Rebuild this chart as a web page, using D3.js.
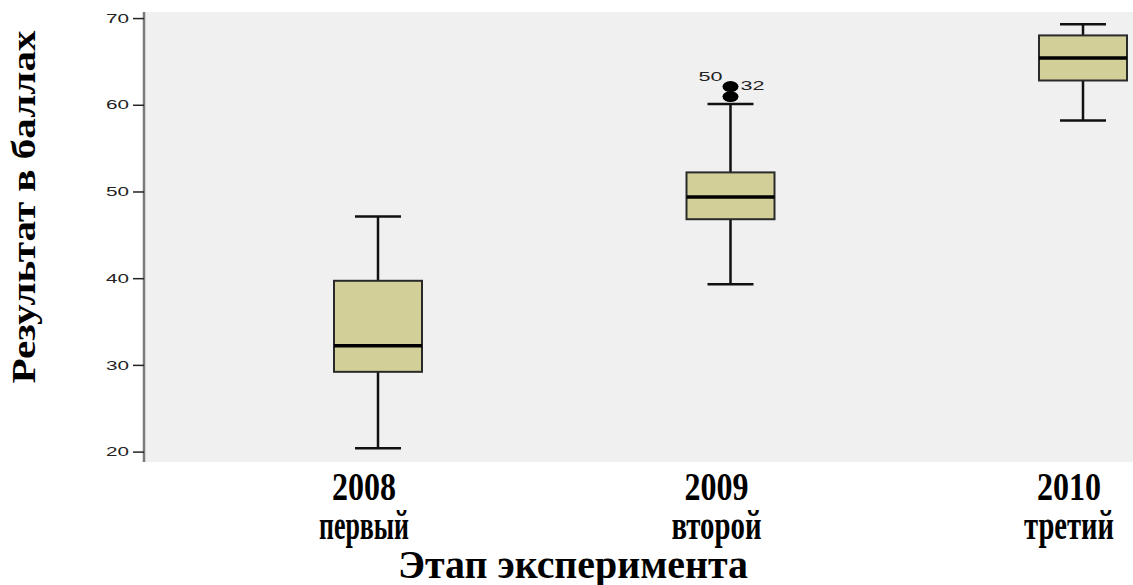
<!DOCTYPE html>
<html lang="ru">
<head>
<meta charset="UTF-8">
<title>Результат в баллах по этапам</title>
<script src="https://d3js.org/d3.v7.min.js"></script>
<style>
  body { margin: 0; background: #fff; }
  svg { display: block; }
  .tick-label { font-family: "Liberation Sans", Arial, sans-serif; font-size: 13px; fill: #222; }
  .cat-label { font-family: "Liberation Serif", "Times New Roman", serif; font-weight: bold; fill: #000; }
</style>
</head>
<body>
<div id="chart"></div>
<script>
// --- data ---
const categories = ["2008", "2009", "2010"];
const stageNames = ["первый", "второй", "третий"];
const whiskerLow = [20.4, 39.3, 58.2];
const q1 = [29.2, 46.8, 62.8];
const median = [32.2, 49.35, 65.4];
const q3 = [39.7, 52.2, 68.0];
const whiskerHigh = [47.1, 60.1, 69.3];
const outlierCats = ["2009", "2009"];
const outlierValues = [62.1, 60.95];
const outlierLabels = ["32", "50"];
const yTicks = [20, 30, 40, 50, 60, 70];

const W = 1133, H = 585;
const plot = { left: 144, top: 12, right: 1133, bottom: 462 };

const svg = d3.select("#chart").append("svg").attr("width", W).attr("height", H);

const y = d3.scaleLinear().domain([18.8, 70.7]).range([plot.bottom, plot.top]);
const x = d3.scalePoint().domain(categories).range([378, 1083]);
const boxW = 88, capW = 46;

// plot background
svg.append("rect")
  .attr("x", plot.left).attr("y", plot.top)
  .attr("width", plot.right - plot.left).attr("height", plot.bottom - plot.top)
  .attr("fill", "#f0f0f0");

// y axis
const yAxis = svg.append("g").attr("transform", `translate(${plot.left},0)`)
  .call(d3.axisLeft(y).tickValues(yTicks).tickSize(11).tickPadding(4).tickSizeOuter(0));
yAxis.select(".domain").attr("stroke", "#7a7a7a").attr("stroke-width", 2.5)
  .attr("d", `M0,${plot.top}V${plot.bottom}`);
yAxis.selectAll(".tick line").attr("stroke", "#222").attr("stroke-width", 1.5);
yAxis.selectAll(".tick text").attr("class", "tick-label")
  .attr("font-size", null).attr("font-family", null)
  .attr("textLength", 23).attr("lengthAdjust", "spacingAndGlyphs");

// boxes
const boxes = svg.append("g").selectAll("g").data(categories).join("g");
boxes.append("line")
  .attr("x1", d => x(d)).attr("x2", d => x(d))
  .attr("y1", (d, i) => y(whiskerLow[i])).attr("y2", (d, i) => y(whiskerHigh[i]))
  .attr("stroke", "#111").attr("stroke-width", 2.5);
boxes.selectAll(".cap").data((d, i) => [[d, whiskerLow[i]], [d, whiskerHigh[i]]]).join("line")
  .attr("class", "cap")
  .attr("x1", d => x(d[0]) - capW / 2).attr("x2", d => x(d[0]) + capW / 2)
  .attr("y1", d => y(d[1])).attr("y2", d => y(d[1]))
  .attr("stroke", "#111").attr("stroke-width", 2.5);
boxes.append("rect")
  .attr("x", d => x(d) - boxW / 2).attr("width", boxW)
  .attr("y", (d, i) => y(q3[i])).attr("height", (d, i) => y(q1[i]) - y(q3[i]))
  .attr("fill", "#d3cf98").attr("stroke", "#2a2a2a").attr("stroke-width", 2);
boxes.append("line")
  .attr("x1", d => x(d) - boxW / 2).attr("x2", d => x(d) + boxW / 2)
  .attr("y1", (d, i) => y(median[i])).attr("y2", (d, i) => y(median[i]))
  .attr("stroke", "#000").attr("stroke-width", 3.5);

// outliers
const outG = svg.append("g");
outG.selectAll("ellipse").data(outlierValues).join("ellipse")
  .attr("cx", (d, i) => x(outlierCats[i])).attr("cy", d => y(d))
  .attr("rx", 8).attr("ry", 5.5).attr("fill", "#000");
outG.selectAll("text").data(outlierLabels).join("text")
  .attr("class", "tick-label")
  .attr("x", (d, i) => x(outlierCats[i]) + (i === 0 ? 10 : -32))
  .attr("y", (d, i) => y(outlierValues[0]) + (i === 0 ? 3.5 : -6))
  .attr("textLength", 24).attr("lengthAdjust", "spacingAndGlyphs")
  .text(d => d);

// category labels
const labelShift = -14;
svg.selectAll(".year").data(categories).join("text")
  .attr("class", "cat-label year")
  .attr("x", d => x(d) + labelShift).attr("y", 500)
  .attr("text-anchor", "middle").attr("font-size", 40)
  .attr("textLength", 64).attr("lengthAdjust", "spacingAndGlyphs")
  .text(d => d);
svg.selectAll(".stage").data(categories).join("text")
  .attr("class", "cat-label stage")
  .attr("x", d => x(d) + labelShift).attr("y", 539)
  .attr("text-anchor", "middle").attr("font-size", 42)
  .attr("textLength", 90).attr("lengthAdjust", "spacingAndGlyphs")
  .text((d, i) => stageNames[i]);

// axis titles
svg.append("text").attr("class", "cat-label")
  .attr("x", 573).attr("y", 578).attr("text-anchor", "middle").attr("font-size", 40)
  .attr("textLength", 350).attr("lengthAdjust", "spacingAndGlyphs")
  .text("Этап эксперимента");
svg.append("text").attr("class", "cat-label")
  .attr("transform", "translate(35,207) rotate(-90)")
  .attr("text-anchor", "middle").attr("font-size", 34)
  .attr("textLength", 353).attr("lengthAdjust", "spacingAndGlyphs")
  .text("Результат в баллах");
</script>
</body>
</html>
